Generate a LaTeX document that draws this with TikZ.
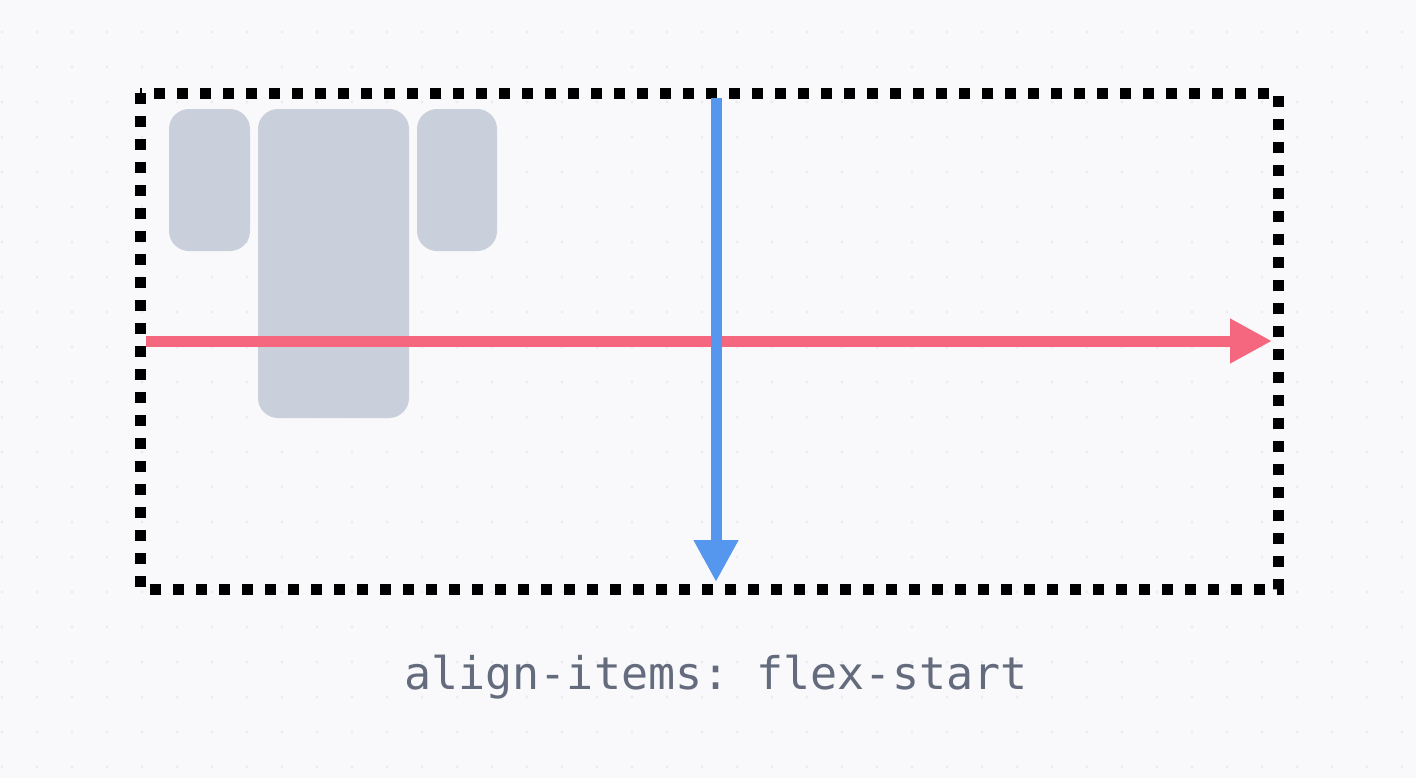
\documentclass[tikz,border=0pt]{standalone}
\usepackage{fontspec}
\setmonofont{DejaVu Sans Mono}
\usepackage{xcolor}
\usepackage{tikz}
\usetikzlibrary{arrows.meta}
\definecolor{pagebg}{HTML}{F9F9FB}
\definecolor{griddot}{HTML}{EAECF0}
\definecolor{itemgray}{HTML}{C9CFDB}
\definecolor{mainred}{HTML}{F5677F}
\definecolor{crossblue}{HTML}{5597EF}
\definecolor{labelgray}{HTML}{636B7D}

\begin{document}
\begin{tikzpicture}[x=0.5pt, y=-0.5pt,
    item/.style={fill=itemgray, rounded corners=10pt},
    axis/.style={line width=5.5pt, -{Triangle[length=21pt, width=21pt]}}]
    % Page background with dot grid
    \fill[pagebg] (0,0) rectangle (1416,778);
    \useasboundingbox (0,0) rectangle (1416,778);
    \foreach \i in {0,...,40}
        \foreach \j in {0,...,21}
            \fill[griddot] (2+35*\i, 32+35*\j) circle (0.8pt);

    % Flex items
    \fill[item] (169,109) rectangle (250,251);
    \fill[item] (258,109) rectangle (409,418);
    \fill[item] (417,109) rectangle (497,251);

    % Container
    \draw[black, line width=5.5pt, dash pattern=on 5.5pt off 6pt] (140,93) rectangle (1278,589);

    % Main axis and cross axis
    \coordinate (mainstart) at (146,341);
    \coordinate (mainend) at (1272,341);
    \coordinate (crossstart) at (716,98);
    \coordinate (crossend) at (716,582);
    \draw[axis, mainred] (mainstart) -- (mainend);
    \draw[axis, crossblue] (crossstart) -- (crossend);

    % Caption
    \node[labelgray, anchor=base, font=\ttfamily\fontsize{22.5}{27}\selectfont] (caption) at (716,689) {align-items: flex-start};
\end{tikzpicture}
\end{document}
